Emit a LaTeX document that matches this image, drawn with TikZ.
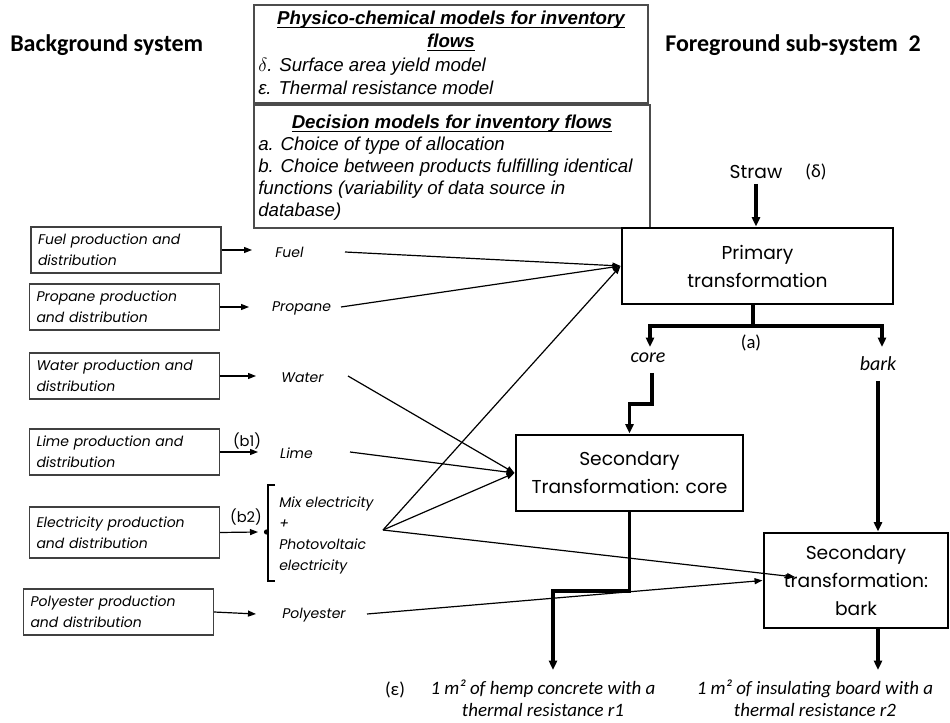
\documentclass[tikz,border=0pt]{standalone}
\usepackage{fontspec}
\setmainfont{Liberation Sans}
\newfontfamily\calfont{Carlito}
\newfontfamily\futfont{Poppins}
\usetikzlibrary{arrows.meta}
\newcommand\ulx[1]{\setbox0\hbox{#1}\rlap{\rule[-2.2pt]{\wd0}{0.9pt}}\box0}
\begin{document}
\begin{tikzpicture}[x=0.75pt,y=-0.75pt,
  tl/.style={line width=0.9pt,-{Triangle[length=6pt,width=4.5pt]}},
  kl/.style={line width=2.3pt},
  ka/.style={line width=2.3pt,-{Triangle[length=7pt,width=6pt]}},
  gbox/.style={draw=black!70,line width=0.9pt,inner sep=0pt},
  lbox/.style={draw=black!75,line width=0.9pt,minimum width=142.5pt,minimum height=34.5pt,text width=132pt,align=left,inner sep=0pt,font=\futfont\itshape\fontsize{10.5}{15.75}\selectfont},
  mbox/.style={draw,line width=2.2pt,align=center,inner sep=0pt,font=\futfont\fontsize{14}{21}\selectfont},
  flab/.style={font=\futfont\itshape\fontsize{10.5}{15.75}\selectfont,inner sep=0pt},
  hdr/.style={font=\calfont\bfseries\fontsize{18}{22}\selectfont,inner sep=0pt,anchor=base west},
  mt/.style={font=\itshape\fontsize{14}{16.5}\selectfont,inner sep=0pt,anchor=base west},
  mh/.style={font=\bfseries\itshape\fontsize{14}{16.5}\selectfont,inner sep=0pt,anchor=base},
  cl/.style={font=\calfont\fontsize{14}{16.5}\selectfont,inner sep=0pt},
]
\useasboundingbox (0,0) rectangle (950,723);

% headers
\node[hdr] (bg) at (10,52) {Background system};
\node[hdr] (fg) at (665,52) {Foreground sub-system\ \ 2};

% model boxes
\node[gbox,minimum width=295.5pt,minimum height=73.5pt] (phys) at (451,54) {};
\node[gbox,minimum width=297pt,minimum height=92.25pt] (dec) at (452,166.5) {};
\node[mh] (p1) at (451,25) {\ulx{Physico-chemical models for inventory}};
\node[mh] (p2) at (451,48) {\ulx{flows}};
\node[mt] (p3) at (258,72) {$\delta$. Surface area yield model};
\node[mt] (p4) at (258,95) {ε. Thermal resistance model};
\node[mh] (d1) at (452,129) {\ulx{Decision models for inventory flows}};
\node[mt] (d2) at (258,151) {a. Choice of type of allocation};
\node[mt] (d3) at (258,173) {b. Choice between products fulfilling identical};
\node[mt] (d4) at (258,195) {functions (variability of data source in};
\node[mt] (d5) at (258,217) {database)};

% background boxes
\node[lbox] (fuelb) at (126,250) {Fuel production and\\distribution};
\node[lbox] (propb) at (124.5,307) {Propane production\\and distribution};
\node[lbox] (watb) at (124.5,376) {Water production and\\distribution};
\node[lbox] (limeb) at (124.5,452) {Lime production and\\distribution};
\node[lbox,minimum height=38.25pt] (elecb) at (124.5,532.5) {Electricity production\\and distribution};
\node[lbox] (polyb) at (118.5,612) {Polyester production\\and distribution};

% flow labels
\node[flab] (fuel) at (289.5,252) {Fuel};
\node[flab] (prop) at (301.5,308) {Propane};
\node[flab] (wat) at (302.5,378) {Water};
\node[flab] (lime) at (296.5,453) {Lime};
\node[flab] (poly) at (314,615) {Polyester};
\node[flab,anchor=west,align=left] (elec) at (279,535) {Mix electricity\\+\\Photovoltaic\\electricity};
\node[font=\futfont\fontsize{11}{13}\selectfont,inner sep=0pt] (b1) at (247,441) {(b1)};
\node[font=\futfont\fontsize{11}{13}\selectfont,inner sep=0pt] (b2) at (246,517) {(b2)};

\coordinate (fuelT) at (252,250);
\coordinate (propT) at (249,307);
\coordinate (watT) at (256,376);
\coordinate (limeT) at (258,452);
\coordinate (elecT) at (258,532);
\coordinate (polyT) at (256,614);
\draw[tl] (fuelb.east) -- (fuelT);
\draw[tl] (propb.east) -- (propT);
\draw[tl] (watb.east) -- (watT);
\draw[tl] (limeb.east) -- (limeT);
\draw[tl] (elecb.east) -- (elecT);
\draw[tl] (polyb.east) -- (polyT);

% bracket
\draw[line width=2pt] (275,485) -- (268,485) -- (268,581) -- (275,581);
\fill (266.5,532) circle (2.6);

% main boxes
\node[mbox,minimum width=203.25pt,minimum height=57pt] (prim) at (757.5,266) {Primary\\transformation};
\node[mbox,minimum width=170.25pt,minimum height=57pt] (sc) at (629.5,473) {Secondary\\Transformation: core};
\node[mbox,minimum width=138pt,minimum height=71.25pt] (sb) at (856,580.5) {Secondary\\transformation:\\bark};

% input lines
\coordinate (fuelS) at (345,252);
\coordinate (propS) at (341,307);
\coordinate (watS) at (348,376);
\coordinate (limeS) at (350,452);
\coordinate (J) at (383,530);
\coordinate (polyS) at (367,614);
\coordinate (sbIn) at (795,577);
\draw[tl] (fuelS) -- (prim.west);
\draw[tl] (propS) -- (prim.west);
\draw[tl] (J) -- (prim.west);
\draw[tl] (watS) -- (sc.west);
\draw[tl] (limeS) -- (sc.west);
\draw[tl] (J) -- (sc.west);
\draw[tl] (J) -- (sbIn);
\draw[tl] (polyS) -- (sb.west);

% straw
\node[font=\futfont\fontsize{14}{16}\selectfont,inner sep=0pt] (straw) at (756,172) {Straw};
\node[cl] (dl) at (816,172) {(δ)};
\coordinate (strawS) at (756,184);
\draw[ka] (strawS) -- (strawS |- prim.north);

% allocation split
\coordinate (aJ) at (753,326);
\coordinate (coreT) at (650,347);
\coordinate (barkT) at (882,347);
\draw[kl] (aJ |- prim.south) -- (aJ);
\draw[ka] (aJ) -| (coreT);
\draw[ka] (aJ) -| (barkT);
\node[cl] (al) at (751,343) {(a)};
\node[cl,font=\calfont\itshape\fontsize{15}{17}\selectfont] (core) at (648,358) {core};
\node[cl,font=\calfont\itshape\fontsize{15}{17}\selectfont] (bark) at (878,364) {bark};

% core to secondary core
\coordinate (coreB) at (652,373);
\coordinate (coreM) at (629.5,404);
\draw[ka] (coreB) |- (coreM) -- (sc.north);
% bark to secondary bark
\coordinate (barkB) at (878,381);
\draw[ka] (barkB) -- (barkB |- sb.north);

% outputs
\coordinate (outM) at (553,591);
\coordinate (outL) at (553,670);
\draw[ka] (sc.south) |- (outM) -- (outL);
\coordinate (outR) at (878,670);
\draw[ka] (barkB |- sb.south) -- (outR);

\node[cl] (eps) at (395,690) {(ε)};
\node[cl,font=\calfont\itshape\fontsize{14.2}{16.5}\selectfont,align=center,anchor=north] (o1) at (543,680) {1 m² of hemp concrete with a\\thermal resistance r1};
\node[cl,font=\calfont\itshape\fontsize{14.2}{16.5}\selectfont,align=center,anchor=north] (o2) at (815,680) {1 m² of insulating board with a\\thermal resistance r2};
\end{tikzpicture}
\end{document}
